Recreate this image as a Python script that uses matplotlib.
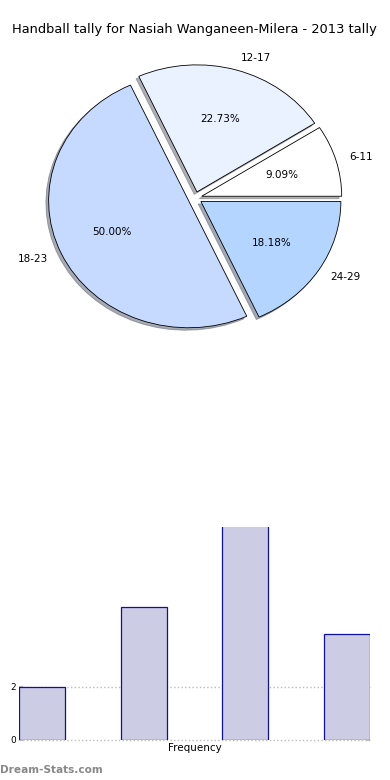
import numpy as np
import matplotlib
matplotlib.use('Agg')
import matplotlib.pyplot as plt

# Age groups and tally counts
age_groups = ['6-11', '12-17', '18-23', '24-29']
counts = [2, 5, 11, 4]
pie_colors = ['#FFFFFF', '#EAF1FF', '#C6D9FF', '#B4D5FF']
y_ticks = [0, 2]

title = 'Handball tally for Nasiah Wanganeen-Milera - 2013 tally'


def main():
    fig = plt.figure(figsize=(3.9, 7.8), dpi=100)

    # Pie chart (top)
    ax_pie = fig.add_axes([0.0692, 0.5506, 0.8615, 0.391])
    wedges, texts, autotexts = ax_pie.pie(
        counts, labels=age_groups, colors=pie_colors, startangle=0,
        explode=[0.05] * len(counts),
        shadow={'ox': -0.014, 'oy': -0.014, 'shade': 0.6},
        autopct='%1.2f%%', pctdistance=0.6, labeldistance=1.1,
        wedgeprops={'edgecolor': 'black', 'linewidth': 0.6},
        textprops={'fontsize': 7.5})
    ax_pie.set_aspect('auto')
    ax_pie.set_xlim(-1.2, 1.2)
    ax_pie.set_ylim(-1.2, 1.2)

    fig.text(0.5 - 1 / 390, 1 - 30 / 780, title, ha='center', va='center',
             fontsize=9.35)

    # Bar chart (bottom)
    ax_bar = fig.add_axes([0.0487, 0.0513, 0.9, 0.273])
    x = np.arange(len(counts))
    ax_bar.bar(x, counts, width=0.45, color='#CCCCE5', edgecolor='#1010A0',
               linewidth=0.9, zorder=3)
    ax_bar.set_xlim(-0.225, len(counts) - 1 + 0.225)
    ax_bar.set_ylim(0, 8)
    ax_bar.set_yticks(y_ticks)
    ax_bar.set_xticks([])
    ax_bar.tick_params(axis='y', labelsize=6.5, length=3, width=1.5,
                       color='#BBBBBB', direction='in', left=True, right=True,
                       pad=2)
    ax_bar.grid(axis='y', linestyle=':', color='#BBBBBB', linewidth=1.0, zorder=0)
    for line in ax_bar.get_ygridlines():
        line.set_clip_on(False)
    for s in ax_bar.spines.values():
        s.set_visible(False)
    ax_bar.set_xlabel('Frequency', fontsize=7.5, labelpad=2)

    fig.text(0.0, 1 - 770 / 780, 'Dream-Stats.com', ha='left', va='center',
             fontsize=7.6, color='#888888', fontweight='bold')

    fig.savefig('out.png', dpi=100)


if __name__ == '__main__':
    main()
